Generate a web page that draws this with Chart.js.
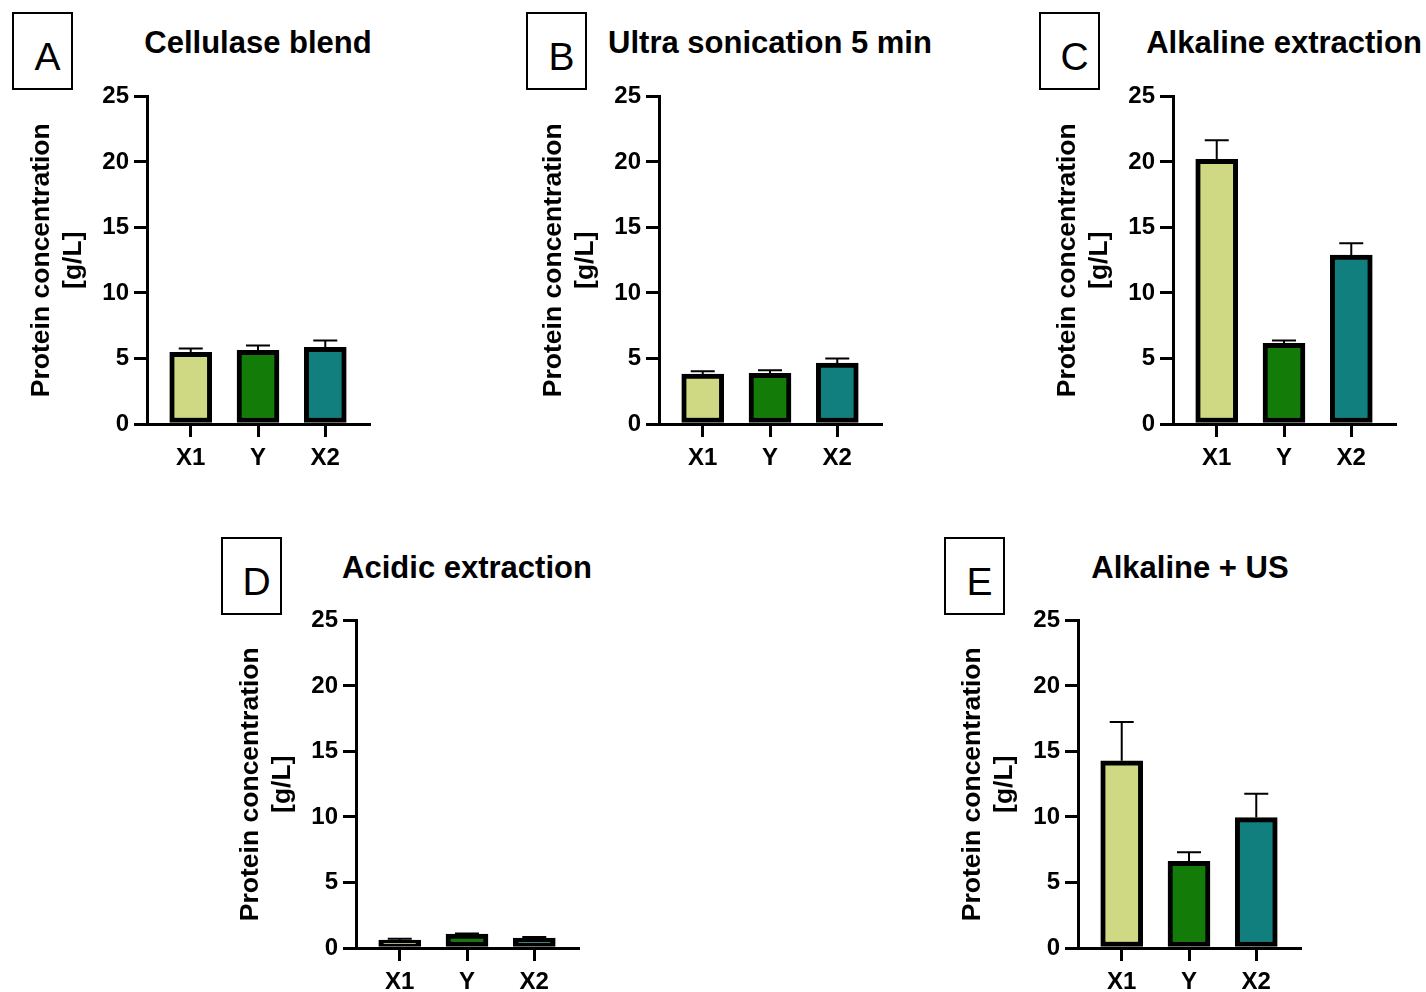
<!DOCTYPE html>
<html>
<head>
<meta charset="utf-8">
<script src="https://cdn.jsdelivr.net/npm/chart.js@4"></script>
<style>
  html,body{margin:0;padding:0;background:#fff;overflow:hidden;}
  body{width:1426px;height:992px;position:relative;font-family:"Liberation Sans",Arial,sans-serif;}
  canvas{position:absolute;}
  .box{position:absolute;box-sizing:border-box;width:61px;height:78px;border:2px solid #000;
       display:flex;align-items:center;justify-content:center;padding-left:10px;padding-top:11px;
       font-size:39px;color:#000;}
  .title{position:absolute;transform:translateX(-50%);white-space:nowrap;font-weight:bold;
         font-size:31px;line-height:31px;color:#000;}
</style>
</head>
<body>
<div class="box" style="left:12px;top:12px">A</div>
<div class="box" style="left:526px;top:12px">B</div>
<div class="box" style="left:1039px;top:12px">C</div>
<div class="box" style="left:221px;top:537px">D</div>
<div class="box" style="left:944px;top:537px">E</div>

<div class="title" style="left:258px;top:27px">Cellulase blend</div>
<div class="title" style="left:770px;top:27px">Ultra sonication 5 min</div>
<div class="title" style="left:1284px;top:27px">Alkaline extraction</div>
<div class="title" style="left:467px;top:552px">Acidic extraction</div>
<div class="title" style="left:1190px;top:552px">Alkaline + US</div>

<canvas id="cA" width="377" height="392" style="left:0px;top:77px"></canvas>
<canvas id="cB" width="377" height="392" style="left:512px;top:77px"></canvas>
<canvas id="cC" width="377" height="392" style="left:1026px;top:77px"></canvas>
<canvas id="cD" width="377" height="392" style="left:209px;top:601px"></canvas>
<canvas id="cE" width="377" height="392" style="left:931px;top:601px"></canvas>

<script>
// data (mean + upper SD)
const categories = ['X1', 'Y', 'X2'];
const yTicks = [0, 5, 10, 15, 20, 25];
const barColors = ['#cfd984', '#137b07', '#117f7e'];

const cellulaseMean = [5.47, 5.62, 5.85];
const cellulaseSd   = [0.30, 0.38, 0.53];
const sonicMean     = [3.80, 3.87, 4.64];
const sonicSd       = [0.23, 0.23, 0.36];
const alkalineMean  = [20.2, 6.15, 12.9];
const alkalineSd    = [1.46, 0.23, 0.90];
const acidicMean    = [0.61, 1.06, 0.76];
const acidicSd      = [0.09, 0.05, 0.08];
const alkUsMean     = [14.29, 6.61, 9.95];
const alkUsSd       = [2.96, 0.69, 1.83];

Chart.defaults.font.family = '"Liberation Sans", Arial, sans-serif';
Chart.defaults.color = '#000';

// upper error bars with a cap
const errorBars = {
  id: 'errorBars',
  afterDatasetsDraw(chart) {
    const ctx = chart.ctx;
    const ys = chart.scales.y;
    const ds = chart.data.datasets[0];
    const meta = chart.getDatasetMeta(0);
    ctx.save();
    ctx.strokeStyle = '#000';
    ctx.lineWidth = 2;
    meta.data.forEach((bar, i) => {
      const v = ds.data[i].y;
      const top = ys.getPixelForValue(v + ds.sd[i]);
      const base = ys.getPixelForValue(v);
      ctx.beginPath();
      ctx.moveTo(bar.x, base);
      ctx.lineTo(bar.x, top);
      ctx.moveTo(bar.x - 12, top);
      ctx.lineTo(bar.x + 12, top);
      ctx.stroke();
    });
    ctx.restore();
  }
};

function makeChart(id, means, sds) {
  const axisGrid = {display: true, drawOnChartArea: false, drawTicks: true, tickLength: 13, lineWidth: 3, color: '#000'};
  const axisBorder = {display: true, color: '#000', width: 3};
  return new Chart(document.getElementById(id), {
    type: 'bar',
    data: {
      datasets: [{
        data: means.map((m, i) => ({x: i + 1, y: m})),
        sd: sds,
        backgroundColor: barColors,
        borderColor: '#000',
        borderWidth: 5,
        borderSkipped: false,
        barThickness: 42
      }]
    },
    options: {
      responsive: false,
      animation: false,
      layout: {padding: {top: 12, right: 8, bottom: 0, left: 0}},
      plugins: {legend: {display: false}, tooltip: {enabled: false}},
      scales: {
        x: {
          type: 'linear', min: 0.35, max: 3.65, offset: false,
          afterBuildTicks: s => { s.ticks = categories.map((c, i) => ({value: i + 1})); },
          afterFit: s => { s.height = 45; },
          grid: Object.assign({offset: false}, axisGrid),
          border: axisBorder,
          ticks: {
            autoSkip: false, maxRotation: 0, padding: 7,
            font: {size: 24, weight: 'bold'},
            callback: v => categories[v - 1]
          }
        },
        y: {
          min: 0, max: 25,
          afterBuildTicks: s => { s.ticks = yTicks.map(v => ({value: v})); },
          afterFit: s => { s.width = 147; },
          grid: axisGrid,
          border: axisBorder,
          ticks: {padding: 5, font: {size: 24, weight: 'bold'}},
          title: {
            display: true,
            text: ['Protein concentration', '[g/L]'],
            font: {size: 26.5, weight: 'bold', lineHeight: 1.2},
            padding: {top: 26, bottom: 0}
          }
        }
      }
    },
    plugins: [errorBars]
  });
}

makeChart('cA', cellulaseMean, cellulaseSd);
makeChart('cB', sonicMean, sonicSd);
makeChart('cC', alkalineMean, alkalineSd);
makeChart('cD', acidicMean, acidicSd);
makeChart('cE', alkUsMean, alkUsSd);
</script>
</body>
</html>
